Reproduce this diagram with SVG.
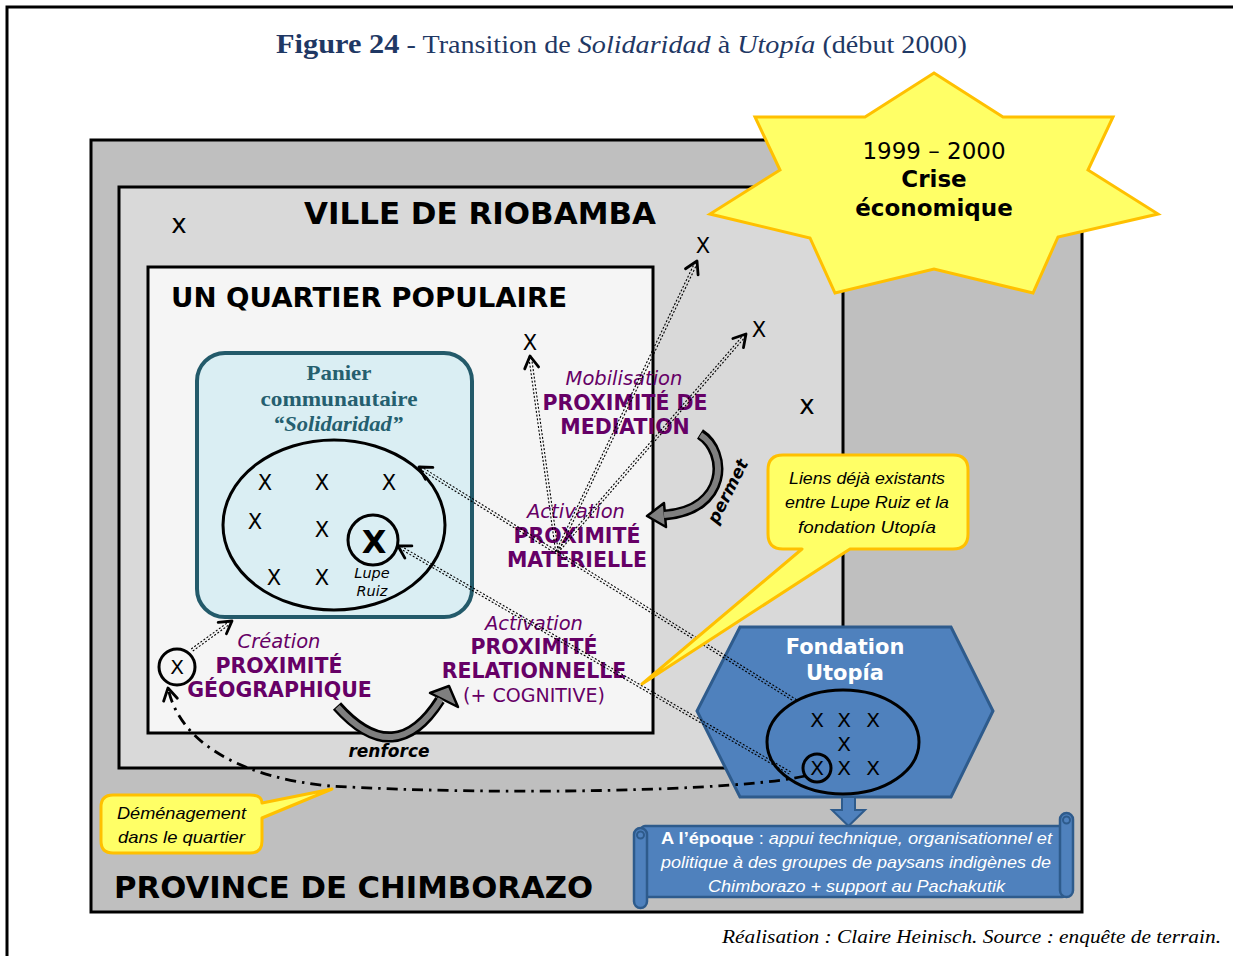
<svg xmlns="http://www.w3.org/2000/svg" width="1233" height="956" viewBox="0 0 1233 956">
<style>
.vb{font-family:"DejaVu Sans",Verdana,sans-serif;font-weight:bold}
.v{font-family:"DejaVu Sans",Verdana,sans-serif}
.pur{fill:#660066}
.it{font-style:italic}
.cal{font-family:"Liberation Sans",Arial,sans-serif;font-style:italic}
.dd line{stroke:#000;stroke-width:1.1;stroke-dasharray:2 1.8}
.dd line.c{stroke:none}
</style>
<defs>
<marker id="chev" viewBox="-15 -10 17 20" markerWidth="17" markerHeight="20" refX="0" refY="0" orient="auto" markerUnits="userSpaceOnUse">
<path d="M-12,-7 L0,0 L-12,7" fill="none" stroke="#000" stroke-width="2.8" stroke-linecap="round" stroke-linejoin="round"/>
</marker>
</defs>
<rect width="1233" height="956" fill="#fff"/>
<path d="M7 956 V7 H1233" fill="none" stroke="#000" stroke-width="3"/>
<text x="621.5" y="53" text-anchor="middle" font-family="Liberation Serif,serif" font-size="25" fill="#1f3864" textLength="691" lengthAdjust="spacingAndGlyphs"><tspan font-weight="bold" font-size="27">Figure 24</tspan> - Transition de <tspan font-style="italic">Solidaridad</tspan> à <tspan font-style="italic">Utopía</tspan> (début 2000)</text>

<g id="province">
<rect x="91" y="140" width="991" height="772" fill="#bfbfbf" stroke="#000" stroke-width="3"/>
<text x="114" y="898" class="vb" font-size="30" textLength="479" lengthAdjust="spacingAndGlyphs">PROVINCE DE CHIMBORAZO</text>
</g>
<g id="ville">
<rect x="119" y="187" width="724" height="581" fill="#d9d9d9" stroke="#000" stroke-width="3"/>
<text x="304" y="224" class="vb" font-size="30" textLength="352" lengthAdjust="spacingAndGlyphs">VILLE DE RIOBAMBA</text>
<text x="179" y="233" class="v" font-size="26" text-anchor="middle">x</text>
<text x="178" y="404" class="v" font-size="26" text-anchor="middle">x</text>
<text x="169" y="538" class="v" font-size="26" text-anchor="middle">x</text>
<text x="807" y="414" class="v" font-size="26" text-anchor="middle">x</text>
<text x="703" y="253" class="v" font-size="21" text-anchor="middle">X</text>
<text x="759" y="337" class="v" font-size="21" text-anchor="middle">X</text>
</g>
<g id="quartier">
<rect x="148" y="267" width="505" height="466" fill="#f5f5f5" stroke="#000" stroke-width="3"/>
<text x="171" y="307" class="vb" font-size="27" textLength="396" lengthAdjust="spacingAndGlyphs">UN QUARTIER POPULAIRE</text>
<text x="530" y="350" class="v" font-size="21" text-anchor="middle">X</text>
</g>
<g id="panier">
<rect x="197" y="353" width="275" height="264" rx="28" fill="#daeef3" stroke="#235a6a" stroke-width="4"/>
<g font-family="Liberation Serif,serif" font-weight="bold" font-size="22" fill="#255f6f" text-anchor="middle">
<text x="339" y="380" textLength="65" lengthAdjust="spacingAndGlyphs">Panier</text>
<text x="339" y="406" textLength="157" lengthAdjust="spacingAndGlyphs">communautaire</text>
<text x="338" y="431" font-style="italic" textLength="130" lengthAdjust="spacingAndGlyphs">“Solidaridad”</text>
</g>
<ellipse cx="334" cy="525" rx="111" ry="85" fill="none" stroke="#000" stroke-width="3"/>
<g class="v" font-size="21" text-anchor="middle">
<text x="265" y="490">X</text><text x="322" y="490">X</text><text x="389" y="490">X</text>
<text x="255" y="529">X</text><text x="322" y="537">X</text>
<text x="274" y="585">X</text><text x="322" y="585">X</text>
</g>
</g>
<g id="lupe">
<circle cx="373" cy="540" r="25" fill="none" stroke="#000" stroke-width="3"/>
<text x="374" y="553" class="vb" font-size="32" text-anchor="middle">X</text>
<text x="372" y="578" class="v it" font-size="14.5" text-anchor="middle">Lupe</text>
<text x="372" y="596" class="v it" font-size="14.5" text-anchor="middle">Ruiz</text>
</g>
<g id="personne">
<circle cx="177" cy="667" r="18" fill="none" stroke="#000" stroke-width="3"/>
<text x="177" y="674" class="v" font-size="20" text-anchor="middle">X</text>
</g>
<g id="prox-mediation" class="pur" text-anchor="middle">
<text x="624" y="385" class="v it" font-size="19.5">Mobilisation</text>
<text x="625" y="410" class="vb" font-size="20.5">PROXIMITÉ DE</text>
<text x="625" y="434" class="vb" font-size="20.5">MEDIATION</text>
</g>
<g id="prox-materielle" class="pur" text-anchor="middle">
<text x="576" y="518" class="v it" font-size="19.5">Activation</text>
<text x="577" y="543" class="vb" font-size="20.5">PROXIMITÉ</text>
<text x="577" y="567" class="vb" font-size="20.5">MATERIELLE</text>
</g>
<g id="prox-geo" class="pur" text-anchor="middle">
<text x="279" y="648" class="v it" font-size="19.5">Création</text>
<text x="279" y="673" class="vb" font-size="20.5">PROXIMITÉ</text>
<text x="279.5" y="697" class="vb" font-size="20.5">GÉOGRAPHIQUE</text>
</g>
<g id="prox-rel" class="pur" text-anchor="middle">
<text x="534" y="630" class="v it" font-size="19.5">Activation</text>
<text x="534" y="654" class="vb" font-size="20.5">PROXIMITÉ</text>
<text x="534" y="678" class="vb" font-size="20.5">RELATIONNELLE</text>
<text x="534" y="702" class="v" font-size="19">(+ COGNITIVE)</text>
</g>
<g id="fondation">
<polygon points="740,627 951,627 993,711 951,797 740,797 697,711" fill="#4f81bd" stroke="#2e5b8c" stroke-width="3"/>
<text x="845" y="654" class="vb" font-size="21" fill="#fff" text-anchor="middle">Fondation</text>
<text x="845" y="680" class="vb" font-size="21" fill="#fff" text-anchor="middle">Utopía</text>
<ellipse cx="843" cy="742" rx="76" ry="52" fill="none" stroke="#000" stroke-width="3"/>
<g class="v" font-size="20" text-anchor="middle">
<text x="817" y="727">X</text><text x="844" y="727">X</text><text x="873" y="727">X</text>
<text x="844" y="751">X</text>
<text x="817" y="775">X</text><text x="844" y="775">X</text><text x="873" y="775">X</text>
</g>
<circle cx="817" cy="768" r="14" fill="none" stroke="#000" stroke-width="3"/>
<polygon points="842,797 855,797 855,810 865,810 848.5,826 832,810 842,810" fill="#4f81bd" stroke="#2e5b8c" stroke-width="2"/>
</g>

<g id="connectors">
<g class="dd">
<line x1="796" y1="701" x2="419" y2="467" transform="translate(0.7,-1.15)"/>
<line x1="796" y1="701" x2="419" y2="467" transform="translate(-0.7,1.15)"/>
<line class="c" x1="796" y1="701" x2="419" y2="467" marker-end="url(#chev)"/>
<line x1="790" y1="773" x2="398" y2="546" transform="translate(0.64,-1.13)"/>
<line x1="790" y1="773" x2="398" y2="546" transform="translate(-0.64,1.13)"/>
<line class="c" x1="790" y1="773" x2="398" y2="546" marker-end="url(#chev)"/>
<line x1="557" y1="552" x2="530" y2="356" transform="translate(1.29,-0.18)"/>
<line x1="557" y1="552" x2="530" y2="356" transform="translate(-1.29,0.18)"/>
<line class="c" x1="557" y1="552" x2="530" y2="356" marker-end="url(#chev)"/>
<line x1="557" y1="552" x2="697" y2="261" transform="translate(1.17,0.56)"/>
<line x1="557" y1="552" x2="697" y2="261" transform="translate(-1.17,-0.56)"/>
<line class="c" x1="557" y1="552" x2="697" y2="261" marker-end="url(#chev)"/>
<line x1="557" y1="552" x2="746" y2="334" transform="translate(0.98,0.85)"/>
<line x1="557" y1="552" x2="746" y2="334" transform="translate(-0.98,-0.85)"/>
<line class="c" x1="557" y1="552" x2="746" y2="334" marker-end="url(#chev)"/>
<line x1="192" y1="650" x2="232" y2="621" transform="translate(0.77,1.05)"/>
<line x1="192" y1="650" x2="232" y2="621" transform="translate(-0.77,-1.05)"/>
<line class="c" x1="192" y1="650" x2="232" y2="621" marker-end="url(#chev)"/>
</g>
<path d="M805 776 C740 791,500 796,330 786 C245 778,180 745,168 688" fill="none" stroke="#000" stroke-width="2.8" stroke-dasharray="11 6 2.5 6" marker-end="url(#chev)"/>
<g id="arrow-renforce">
<path d="M337 706 Q395 771 440 700" fill="none" stroke="#000" stroke-width="11"/>
<polygon points="449,686 458,707 430,693" fill="#7f7f7f" stroke="#000" stroke-width="2.5" stroke-linejoin="round"/>
<path d="M337.5 707 Q395 771 441 699" fill="none" stroke="#7f7f7f" stroke-width="6"/>
<text x="389" y="757" class="vb it" font-size="17" text-anchor="middle">renforce</text>
</g>
<g id="arrow-permet">
<path d="M700 434 C728 452,728 510,665 515" fill="none" stroke="#000" stroke-width="11"/>
<polygon points="647,516 666,527 664,503" fill="#7f7f7f" stroke="#000" stroke-width="2.5" stroke-linejoin="round"/>
<path d="M700.5 435 C728 452,728 510,664 515" fill="none" stroke="#7f7f7f" stroke-width="6"/>
<text x="0" y="0" class="vb it" font-size="17" text-anchor="middle" transform="translate(733,494) rotate(-63)">permet</text>
</g>
</g>

<g id="callout-liens">
<path d="M783 455 H953 Q968 455 968 470 V534 Q968 549 953 549 H850 L642 684 L802 549 H783 Q768 549 768 534 V470 Q768 455 783 455 Z" fill="#ffff66" stroke="#ffc000" stroke-width="3" stroke-linejoin="round"/>
<g class="cal" font-size="17" text-anchor="middle">
<text x="867" y="484" textLength="156" lengthAdjust="spacingAndGlyphs">Liens déjà existants</text>
<text x="867" y="508" textLength="164" lengthAdjust="spacingAndGlyphs">entre Lupe Ruiz et la</text>
<text x="867" y="533" textLength="138" lengthAdjust="spacingAndGlyphs">fondation Utopía</text>
</g>
</g>
<g id="callout-demenagement">
<path d="M113 795 H250 Q262 795 262 803 L332 789 L262 818 V841 Q262 853 250 853 H113 Q101 853 101 841 V807 Q101 795 113 795 Z" fill="#ffff66" stroke="#ffc000" stroke-width="3" stroke-linejoin="round"/>
<g class="cal" font-size="17" text-anchor="middle">
<text x="181.5" y="819" textLength="129" lengthAdjust="spacingAndGlyphs">Déménagement</text>
<text x="181.5" y="843" textLength="127" lengthAdjust="spacingAndGlyphs">dans le quartier</text>
</g>
</g>
<g id="crise">
<polygon points="934,73 1003,117 1113,117 1088,170 1158,214 1058,237 1033,293 934,269 835,293 810,238 710,214 780,170 755,117 865,117" fill="#ffff66" stroke="#ffc000" stroke-width="3" stroke-linejoin="miter"/>
<text x="934" y="159" class="v" font-size="23" text-anchor="middle">1999 – 2000</text>
<text x="934" y="187" class="vb" font-size="23" text-anchor="middle">Crise</text>
<text x="934" y="216" class="vb" font-size="23" text-anchor="middle">économique</text>
</g>
<g id="epoque">
<rect x="641" y="826" width="425" height="71" rx="4" fill="#4f81bd" stroke="#2e5b8c" stroke-width="2.5"/>
<rect x="1060" y="813" width="13" height="84" rx="6.5" fill="#4f81bd" stroke="#2e5b8c" stroke-width="2.5"/>
<circle cx="1066.5" cy="820" r="3.5" fill="none" stroke="#2e5b8c" stroke-width="2"/>
<rect x="634" y="828" width="13" height="80" rx="6.5" fill="#4f81bd" stroke="#2e5b8c" stroke-width="2.5"/>
<circle cx="640.5" cy="835" r="3.5" fill="none" stroke="#2e5b8c" stroke-width="2"/>
<g font-family="Liberation Sans,Arial,sans-serif" font-size="17" fill="#fff" text-anchor="middle">
<text x="856.5" y="844" textLength="391" lengthAdjust="spacingAndGlyphs"><tspan font-weight="bold">A l’époque</tspan> : <tspan font-style="italic">appui technique, organisationnel et</tspan></text>
<text x="856" y="868" font-style="italic" textLength="390" lengthAdjust="spacingAndGlyphs">politique à des groupes de paysans indigènes de</text>
<text x="856.5" y="892" font-style="italic" textLength="297" lengthAdjust="spacingAndGlyphs">Chimborazo + support au Pachakutik</text>
</g>
</g>
<text x="722" y="943" font-family="Liberation Serif,serif" font-style="italic" font-size="19" textLength="499" lengthAdjust="spacingAndGlyphs">Réalisation : Claire Heinisch. Source : enquête de terrain.</text>
</svg>
